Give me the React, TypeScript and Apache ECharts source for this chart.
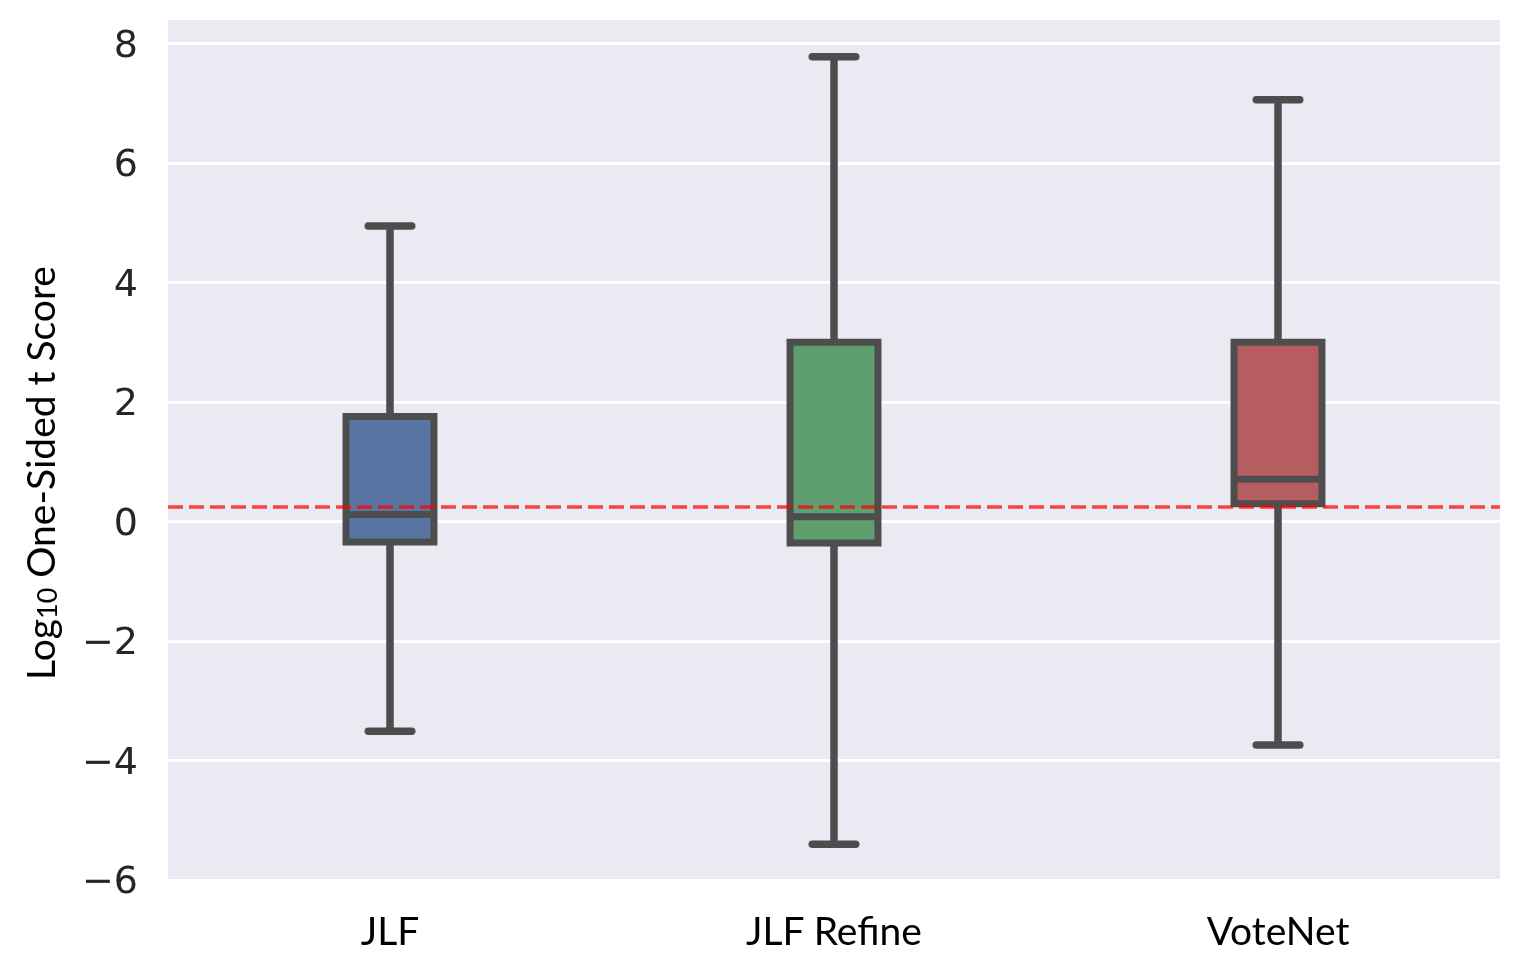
import React, { useEffect, useRef } from "react";
import * as echarts from "echarts";

const categories = ["JLF", "JLF Refine", "VoteNet"];
const whiskerLow = [-3.51, -5.4, -3.74];
const q1 = [-0.34, -0.36, 0.3];
const median = [0.12, 0.08, 0.71];
const q3 = [1.76, 3.0, 3.0];
const whiskerHigh = [4.95, 7.78, 7.06];
const boxColors = ["#5875a4", "#5f9e6e", "#b55d60"];
const threshold = 0.24;
const yTicks = [-6, -4, -2, 0, 2, 4, 6, 8];

export default function App() {
  const ref = useRef<HTMLDivElement>(null);
  useEffect(() => {
    if (!ref.current) return;
    const chart = echarts.init(ref.current, null, { renderer: "svg" });
    const data = categories.map((_, i) => [i, whiskerLow[i], q1[i], median[i], q3[i], whiskerHigh[i]]);
    const edge = "#4d4d4d";
    const option = {
      animation: false,
      grid: {
        left: 168,
        right: 14,
        top: 18,
        bottom: 80,
        show: true,
        backgroundColor: "#eaeaf2",
        borderWidth: 0,
      },
      xAxis: {
        type: "category",
        data: categories,
        axisLine: { show: false },
        axisTick: { show: false },
        splitLine: { show: false },
        axisLabel: {
          fontFamily: "Lato",
          fontSize: 39,
          color: "#000",
          margin: 30,
          lineHeight: 39,
        },
      },
      yAxis: {
        type: "value",
        min: yTicks[0],
        max: 8.43,
        interval: 2,
        axisLine: { show: false },
        axisTick: { show: false },
        splitLine: { show: true, lineStyle: { color: "#ffffff", width: 3 } },
        axisLabel: {
          fontFamily: "DejaVu Sans",
          fontSize: 38,
          color: "#262626",
          margin: 30,
          showMaxLabel: false,
          formatter: (v: number) => (yTicks.includes(v) ? String(v).replace("-", "\u2212") : ""),
        },
        name: "{a|Log}{b|10}{a| One-Sided t Score}",
        nameLocation: "middle",
        nameRotate: 90,
        nameGap: 108,
        nameTextStyle: {
          padding: [0, 48, 0, 0],
          rich: {
            a: { fontFamily: "Lato", fontSize: 39, color: "#000", lineHeight: 40, verticalAlign: "top" },
            b: {
              fontFamily: "Lato",
              fontSize: 27,
              color: "#000",
              lineHeight: 27,
              padding: [22, 0, 0, 0],
              verticalAlign: "bottom",
            },
          },
        },
      },
      series: [
        {
          type: "custom",
          z: 2,
          data,
          encode: { x: 0, y: [1, 2, 3, 4, 5] },
          renderItem: (params: any, api: any) => {
            const idx = api.value(0);
            const band = api.size([1, 0])[0];
            const pLow = api.coord([idx, api.value(1)]);
            const pQ1 = api.coord([idx, api.value(2)]);
            const pMed = api.coord([idx, api.value(3)]);
            const pQ3 = api.coord([idx, api.value(4)]);
            const pHigh = api.coord([idx, api.value(5)]);
            const cx = pLow[0];
            const boxW = band * 0.198;
            const capHalf = band * 0.049;
            const lw = 7.5;
            const lineStyle = { stroke: edge, lineWidth: lw };
            return {
              type: "group",
              children: [
                { type: "line", shape: { x1: cx, y1: pHigh[1], x2: cx, y2: pQ3[1] }, style: lineStyle },
                { type: "line", shape: { x1: cx, y1: pQ1[1], x2: cx, y2: pLow[1] }, style: lineStyle },
                {
                  type: "line",
                  shape: { x1: cx - capHalf, y1: pHigh[1], x2: cx + capHalf, y2: pHigh[1] },
                  style: { ...lineStyle, lineCap: "round" },
                },
                {
                  type: "line",
                  shape: { x1: cx - capHalf, y1: pLow[1], x2: cx + capHalf, y2: pLow[1] },
                  style: { ...lineStyle, lineCap: "round" },
                },
                {
                  type: "rect",
                  shape: { x: cx - boxW / 2, y: pQ3[1], width: boxW, height: pQ1[1] - pQ3[1] },
                  style: { fill: boxColors[params.dataIndex], stroke: edge, lineWidth: 7 },
                },
                {
                  type: "line",
                  shape: { x1: cx - boxW / 2, y1: pMed[1], x2: cx + boxW / 2, y2: pMed[1] },
                  style: { stroke: edge, lineWidth: 7 },
                },
              ],
            };
          },
        },
        {
          type: "line",
          z: 5,
          data: [],
          markLine: {
            silent: true,
            symbol: "none",
            label: { show: false },
            lineStyle: { color: "rgba(255,0,0,0.72)", width: 3.5, type: [15, 6] },
            data: [{ yAxis: threshold }],
          },
        },
      ],
    };
    chart.setOption(option as any);
    return () => chart.dispose();
  }, []);
  return <div ref={ref} style={{ position: "fixed", left: 0, top: 0, width: 1514, height: 960 }} />;
}
